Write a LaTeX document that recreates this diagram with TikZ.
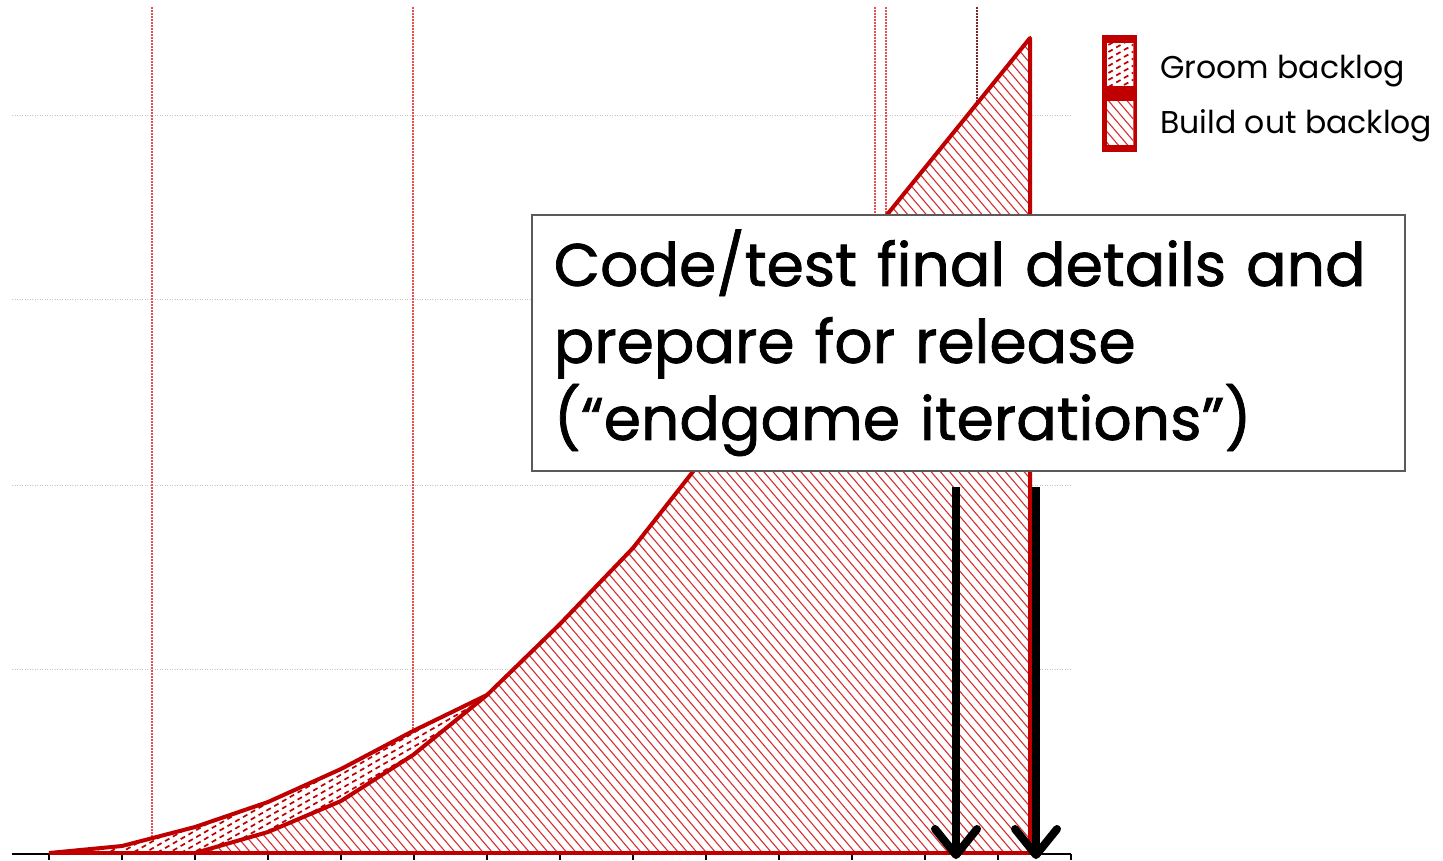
\documentclass[tikz,border=0pt]{standalone}
\usepackage{fontspec}
\setmainfont{Poppins}
\newfontfamily\calloutfont[FakeBold=1.2]{Poppins}
\usetikzlibrary{arrows.meta}

\definecolor{chartred}{HTML}{C00000}
\definecolor{hatchred}{HTML}{D63030}
\definecolor{guidered}{HTML}{E65050}
\definecolor{guidedark}{HTML}{7A2A2A}
\definecolor{gridgray}{HTML}{C4C4C4}
\definecolor{boxgray}{HTML}{5A5A5A}

\tikzset{
  gridline/.style={gridgray, line width=1pt, dash pattern=on 1pt off 1.5pt},
  guideline/.style={guidered, line width=1.1pt, dash pattern=on 1.5pt off 1.5pt},
  guidelinedark/.style={guidedark, line width=1.1pt, dash pattern=on 1.5pt off 1.5pt},
  axisline/.style={black, line width=2pt},
  tickmark/.style={black, line width=1.5pt},
  areaedge/.style={chartred, line width=4pt, line join=round},
  hatchline/.style={hatchred, line width=1.1pt},
  groomdashline/.style={chartred, line width=1.7pt, dash pattern=on 5pt off 4pt},
  legendtext/.style={anchor=west, font=\fontsize{31.5pt}{36pt}\selectfont, inner sep=0pt},
  calloutbox/.style={draw=boxgray, line width=1.5pt, fill=white, anchor=north west,
    minimum width=873pt, minimum height=256pt, inner xsep=22pt,
    text width=829pt, align=left, font=\calloutfont\fontsize{60pt}{77pt}\selectfont},
  bigarrow/.style={black, line width=8pt,
    -{Straight Barb[length=26pt, width=42pt, round]}}
}

% white ground with downward diagonal hatching over the current clip region
\newcommand\buildhatching{%
  \fill[white] (0,0) rectangle (1443,860);
  \foreach \c in {-800,-790.7,...,1450}
    \draw[hatchline] (\c,0) -- (\c+740,870);}
% white ground with dashed rows rising to the right over the current clip region
\newcommand\groomhatching{%
  \fill[white] (0,0) rectangle (1443,860);
  \foreach \c in {0,7,...,1200}
    \draw[groomdashline] (-100,\c) -- (1443,\c-890);}

\begin{document}
\begin{tikzpicture}[x=1pt, y=-1pt]
  \useasboundingbox (0,0) rectangle (1443,860);
  \fill[white] (0,0) rectangle (1443,860);

  % horizontal gridlines
  \foreach \gy in {115,299,485,669}
    \draw[gridline] (12,\gy) -- (1071,\gy);

  % vertical phase guides
  \foreach \gx in {152,413,875,886}
    \draw[guideline] (\gx,7) -- (\gx,853);
  \draw[guidelinedark] (977,7) -- (977,853);

  % category axis with tick marks
  \draw[axisline] (12,854) -- (1071,854);
  \foreach \k in {0,...,14}
    \draw[tickmark] (49+73*\k,854) -- (49+73*\k,860);

  % build out backlog area
  \begin{scope}
    \clip
      (195,853) -- (268,832) -- (341,801) -- (413,755) -- (487,695)
      -- (560,624) -- (633,548) -- (706,455) -- (779,357) -- (852,258)
      -- (1030,38) -- (1030,853) -- cycle;
    \buildhatching
  \end{scope}

  % groom backlog area
  \begin{scope}
    \clip
      (49,853) -- (122,846) -- (195,827) -- (268,802) -- (341,769)
      -- (413,731) -- (487,695) -- (413,755) -- (341,801) -- (268,832)
      -- (195,853) -- cycle;
    \groomhatching
  \end{scope}

  % area outlines
  \draw[areaedge]
    (195,853) -- (268,832) -- (341,801) -- (413,755) -- (487,695)
    -- (560,624) -- (633,548) -- (706,455) -- (779,357) -- (852,258)
    -- (1030,38) -- (1030,853);
  \draw[areaedge]
    (49,853) -- (122,846) -- (195,827) -- (268,802) -- (341,769)
    -- (413,731) -- (487,695);
  \draw[areaedge] (49,853) -- (1030,853);

  % legend
  \node[fill=chartred, draw=none, minimum width=35pt, minimum height=117pt,
        inner sep=0pt, anchor=north west] (swatchframe) at (1102,35) {};
  \node[minimum width=26pt, minimum height=42pt, inner sep=0pt,
        anchor=north west] (groomswatch) at (1107,43) {};
  \begin{scope}
    \clip (groomswatch.south west) rectangle (groomswatch.north east);
    \groomhatching
  \end{scope}
  \node[minimum width=26pt, minimum height=43pt, inner sep=0pt,
        anchor=north west] (buildswatch) at (1107,101) {};
  \begin{scope}
    \clip (buildswatch.south west) rectangle (buildswatch.north east);
    \buildhatching
  \end{scope}
  \node[legendtext] (groomlabel) at (1160,71) {Groom backlog};
  \node[legendtext] (buildlabel) at (1160,126) {Build out backlog};

  % callout
  \node[calloutbox] (callout) at (531,214)
    {Code/test final details and\\prepare for release\\(“endgame iterations”)};

  % endgame arrows
  \coordinate (arrowAtop) at (956,487);
  \coordinate (arrowAend) at (956,859);
  \coordinate (arrowBtop) at (1036,487);
  \coordinate (arrowBend) at (1036,859);
  \draw[bigarrow] (arrowAtop) -- (arrowAend);
  \draw[bigarrow] (arrowBtop) -- (arrowBend);
\end{tikzpicture}
\end{document}
